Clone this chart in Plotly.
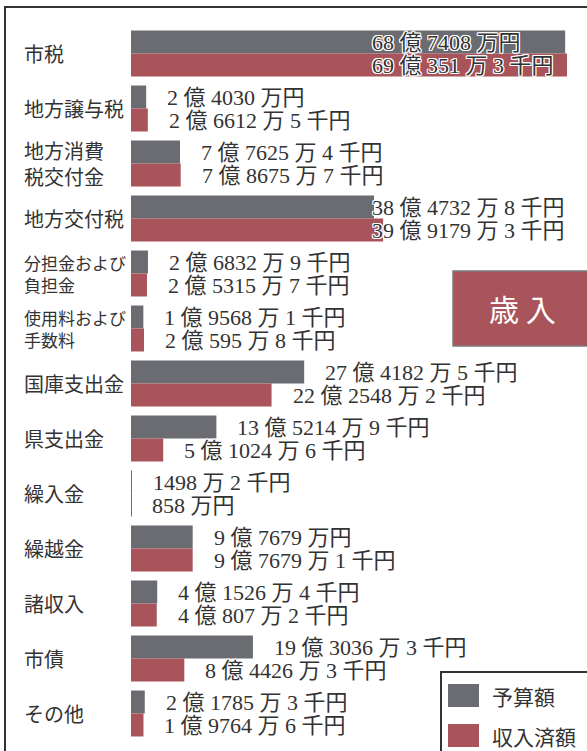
import plotly.graph_objects as go

# ---- data (values in 千円) ----
categories = ["市税", "地方譲与税", "地方消費<br>税交付金", "地方交付税", "分担金および<br>負担金",
              "使用料および<br>手数料", "国庫支出金", "県支出金", "繰入金", "繰越金", "諸収入", "市債", "その他"]
budget = [6874080, 240300, 776254, 3847328, 268329, 195681, 2741825, 1352149, 14982, 976790, 415264, 1930363, 217853]
received = [6903513, 266125, 786757, 3991793, 253157, 205958, 2225482, 510246, 8580, 976791, 408072, 844263, 197646]
series_names = ["予算額", "収入済額"]

GRAY = "#6b6c71"
RED = "#a9545b"
TEXT = "#333333"
FONT = "Liberation Serif, Noto Sans CJK JP, serif"

def fmt(v):
    oku = v // 100000
    man = (v % 100000) // 10
    sen = v % 10
    parts = []
    if oku:
        parts.append(f"{oku} 億")
    if man:
        parts.append(f"{man} 万")
    s = " ".join(parts)
    if sen:
        s += f" {sen} 千円"
    else:
        s += "円"
    return s

to_oku = lambda v: v / 100000.0
ids = list(range(len(categories)))

W, H = 587, 751
L, R, T, B = 131, 0, 26, 10
PW, PH = W - L - R, H - T - B
XMAX = 72.2

def px_x(px):
    return (px - L) / PW

def px_y(py):
    return (H - B - py) / PH

fig = go.Figure()
fig.add_trace(go.Bar(y=ids, x=[to_oku(v) for v in budget], orientation="h",
                     marker=dict(color=GRAY, line=dict(width=0)), name=series_names[0]))
fig.add_trace(go.Bar(y=ids, x=[to_oku(v) for v in received], orientation="h",
                     marker=dict(color=RED, line=dict(width=0)), name=series_names[1]))

annotations = []
pad = 3.0
cap = (370 - L) / PW * XMAX
halo = "1px 1px 0 #fff, -1px -1px 0 #fff, 1px -1px 0 #fff, -1px 1px 0 #fff, 0 1px 0 #fff, 0 -1px 0 #fff, 1px 0 0 #fff, -1px 0 0 #fff"
for i, cat in enumerate(categories):
    size = 17 if "および" in cat else 20
    annotations.append(dict(xref="paper", x=px_x(22), y=i, yref="y", text=cat, showarrow=False,
                            xanchor="left", yanchor="middle", align="left",
                            font=dict(family="Noto Sans CJK JP", size=size, color=TEXT)))
    for vals, shift in ((budget, 11.5), (received, -11.5)):
        v = vals[i]
        annotations.append(dict(x=min(to_oku(v) + pad, cap), y=i, yshift=shift, text=fmt(v),
                                showarrow=False, xanchor="left", yanchor="middle",
                                font=dict(family=FONT, size=22, color=TEXT, shadow=halo)))

# 歳入 badge
annotations.append(dict(xref="paper", yref="paper", x=px_x(522), y=px_y(308), text="歳 入",
                        showarrow=False, xanchor="center", yanchor="middle",
                        font=dict(family="Noto Sans CJK JP", size=30, color="white")))
# legend texts
annotations.append(dict(xref="paper", yref="paper", x=px_x(490), y=px_y(696), text=series_names[0],
                        showarrow=False, xanchor="left", yanchor="middle",
                        font=dict(family="Noto Sans CJK JP", size=21, color=TEXT)))
annotations.append(dict(xref="paper", yref="paper", x=px_x(490), y=px_y(736), text=series_names[1],
                        showarrow=False, xanchor="left", yanchor="middle",
                        font=dict(family="Noto Sans CJK JP", size=21, color=TEXT)))

shapes = [
    dict(type="rect", xref="paper", yref="paper", x0=px_x(5), x1=px_x(W + 20), y0=px_y(H + 20), y1=px_y(7),
         line=dict(color=TEXT, width=2), fillcolor="rgba(0,0,0,0)", layer="below"),
    dict(type="rect", xref="paper", yref="paper", x0=px_x(453), x1=px_x(W + 20), y0=px_y(346), y1=px_y(271),
         line=dict(color="#7a7a7a", width=1.5), fillcolor=RED, layer="above"),
    dict(type="rect", xref="paper", yref="paper", x0=px_x(441), x1=px_x(W + 20), y0=px_y(H + 20), y1=px_y(672),
         line=dict(color=TEXT, width=2), fillcolor="white", layer="above"),
    dict(type="rect", xref="paper", yref="paper", x0=px_x(448), x1=px_x(479), y0=px_y(707), y1=px_y(684),
         line=dict(width=0), fillcolor=GRAY, layer="above"),
    dict(type="rect", xref="paper", yref="paper", x0=px_x(448), x1=px_x(479), y0=px_y(747), y1=px_y(724),
         line=dict(width=0), fillcolor=RED, layer="above"),
]

fig.update_layout(
    width=W, height=H, margin=dict(l=L, r=R, t=T, b=B),
    paper_bgcolor="white", plot_bgcolor="white",
    barmode="group", bargap=0.164, bargroupgap=0,
    showlegend=False,
    xaxis=dict(range=[0, XMAX], showticklabels=False, showgrid=False, zeroline=False, showline=False),
    yaxis=dict(range=[len(categories) - 0.5, -0.5], showticklabels=False, showgrid=False,
               zeroline=False, showline=False, type="linear"),
    annotations=annotations, shapes=shapes,
    font=dict(family=FONT, color=TEXT),
)
fig.write_html("out.html", config={"displayModeBar": False},
               post_script="document.body.style.margin='0';document.body.style.overflow='hidden';")
